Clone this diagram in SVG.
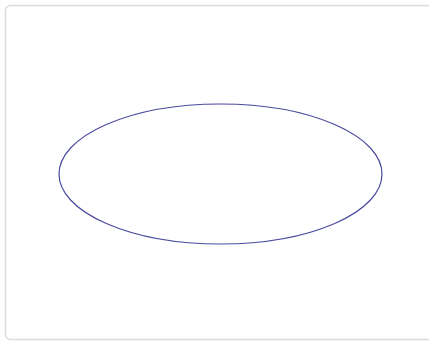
<svg xmlns="http://www.w3.org/2000/svg" width="429" height="342" viewBox="0 0 429 342">
<style>
.card{fill:#ffffff;stroke:#dcdcdc;stroke-width:1.5}
.shape{fill:none;stroke:#4b4ba0;stroke-width:1.2}
</style>
<rect width="429" height="342" fill="#ffffff"/>
<rect class="card" x="5.5" y="5.5" width="430" height="334" rx="5" ry="5"/>
<g id="ellipse">
<ellipse class="shape" cx="220.5" cy="174" rx="161.5" ry="70"/>
</g>
</svg>
